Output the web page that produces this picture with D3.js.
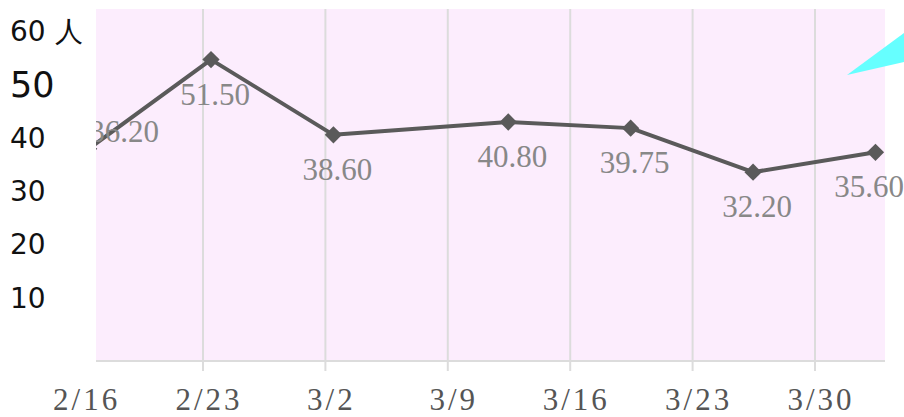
<!DOCTYPE html>
<html>
<head>
<meta charset="utf-8">
<script src="https://cdn.jsdelivr.net/npm/d3@7"></script>
<style>
  body { margin: 0; background: #fff; }
</style>
</head>
<body>
<div id="chart"></div>
<script>
// data
var pointDates = ["2023-02-16", "2023-02-23", "2023-03-02", "2023-03-12", "2023-03-19", "2023-03-26", "2023-04-02"];
var pointValues = [36.20, 51.50, 38.60, 40.80, 39.75, 32.20, 35.60];
var tickDates = ["2023-02-16", "2023-02-23", "2023-03-02", "2023-03-09", "2023-03-16", "2023-03-23", "2023-03-30"];
var tickLabels = ["2/16", "2/23", "3/2", "3/9", "3/16", "3/23", "3/30"];
var yTicks = [10, 20, 30, 40, 50, 60];
var yTickLabels = ["10", "20", "30", "40", "50", "60 人"];

var W = 904, H = 417;
var plot = {left: 96, right: 885, top: 9, bottom: 361};

var parse = d3.timeParse("%Y-%m-%d");
var ticks = tickDates.map(parse);
var data = pointDates.map(function(d, i) {
  // points sit about half a day past midnight
  return {date: d3.timeHour.offset(parse(d), 11), value: pointValues[i]};
});

var svg = d3.select("#chart")
  .append("svg")
    .attr("width", W)
    .attr("height", H);

// x: one week = ~122.3px, 2/23 gridline at x=203
var x = d3.scaleTime()
  .domain([parse("2023-02-23"), parse("2023-03-30")])
  .range([203, 815]);

var y = d3.scaleLinear()
  .domain([0, 60])
  .range([360, 10]);

// axis labels are laid out on their own (slightly compressed) scale
var yLab = d3.scaleLinear()
  .domain([0, 60])
  .range([351, 31]);

var defs = svg.append("defs");
defs.append("clipPath")
  .attr("id", "plotclip")
  .append("rect")
    .attr("x", plot.left)
    .attr("y", plot.top)
    .attr("width", plot.right - plot.left)
    .attr("height", plot.bottom - plot.top);

defs.append("clipPath")
  .attr("id", "labelclip")
  .append("rect")
    .attr("x", plot.left)
    .attr("y", 0)
    .attr("width", W - plot.left)
    .attr("height", H);

svg.append("rect")
  .attr("x", plot.left)
  .attr("y", plot.top)
  .attr("width", plot.right - plot.left)
  .attr("height", plot.bottom - plot.top)
  .attr("fill", "#fcedfd");

// vertical grid + ticks
var gridTicks = ticks.filter(function(d) { return x(d) > plot.left && x(d) < plot.right; });
svg.append("g")
  .selectAll("line")
  .data(gridTicks)
  .enter()
  .append("line")
    .attr("x1", function(d) { return x(d); })
    .attr("x2", function(d) { return x(d); })
    .attr("y1", plot.top)
    .attr("y2", plot.bottom + 10)
    .attr("stroke", "#dcdcdc")
    .attr("stroke-width", 2);

// bottom axis line
svg.append("line")
  .attr("x1", plot.left)
  .attr("x2", plot.right)
  .attr("y1", plot.bottom)
  .attr("y2", plot.bottom)
  .attr("stroke", "#dcdcdc")
  .attr("stroke-width", 2);

// x tick labels
svg.append("g")
  .selectAll("text")
  .data(ticks)
  .enter()
  .append("text")
    .attr("x", function(d) { return x(d) + 6; })
    .attr("y", 410)
    .attr("text-anchor", "middle")
    .attr("font-family", "Liberation Serif, serif")
    .attr("font-size", 31)
    .attr("letter-spacing", 3)
    .attr("fill", "#555")
    .text(function(d, i) { return tickLabels[i]; });

// y tick labels
svg.append("g")
  .selectAll("text")
  .data(yTicks)
  .enter()
  .append("text")
    .attr("x", 10)
    .attr("y", function(d) { return yLab(d); })
    .attr("dy", "0.36em")
    .attr("font-family", "DejaVu Sans, sans-serif")
    .attr("font-size", function(d) { return d === 50 ? 35 : 28; })
    .attr("fill", "#111")
    .text(function(d, i) { return yTickLabels[i]; });

// line
var line = d3.line()
  .x(function(d) { return x(d.date); })
  .y(function(d) { return y(d.value); });

var g = svg.append("g").attr("clip-path", "url(#plotclip)");

g.append("path")
  .datum(data)
  .attr("fill", "none")
  .attr("stroke", "#5a5a5a")
  .attr("stroke-width", 4)
  .attr("stroke-linejoin", "round")
  .attr("d", line);

g.selectAll(".marker")
  .data(data)
  .enter()
  .append("path")
    .attr("class", "marker")
    .attr("d", d3.symbol().type(d3.symbolDiamond2).size(190))
    .attr("transform", function(d) { return "translate(" + x(d.date) + "," + y(d.value) + ")"; })
    .attr("fill", "#5a5a5a");

// value labels (a point left of the plot gets its label pushed in, above the line)
svg.append("g")
  .attr("clip-path", "url(#labelclip)")
  .selectAll("text")
  .data(data)
  .enter()
  .append("text")
    .attr("x", function(d) { return Math.min(Math.max(x(d.date) + 4, plot.left + 28), W - 35); })
    .attr("y", function(d) { return x(d.date) < plot.left ? y(d.value) - 7 : y(d.value) + 45; })
    .attr("text-anchor", "middle")
    .attr("font-family", "Liberation Serif, serif")
    .attr("font-size", 31)
    .attr("fill", "#888")
    .text(function(d) { return d.value.toFixed(2); });

// cyan wedge at top right
svg.append("polygon")
  .attr("points", "847,75 904,33 904,62")
  .attr("fill", "#66ffff");
</script>
</body>
</html>
